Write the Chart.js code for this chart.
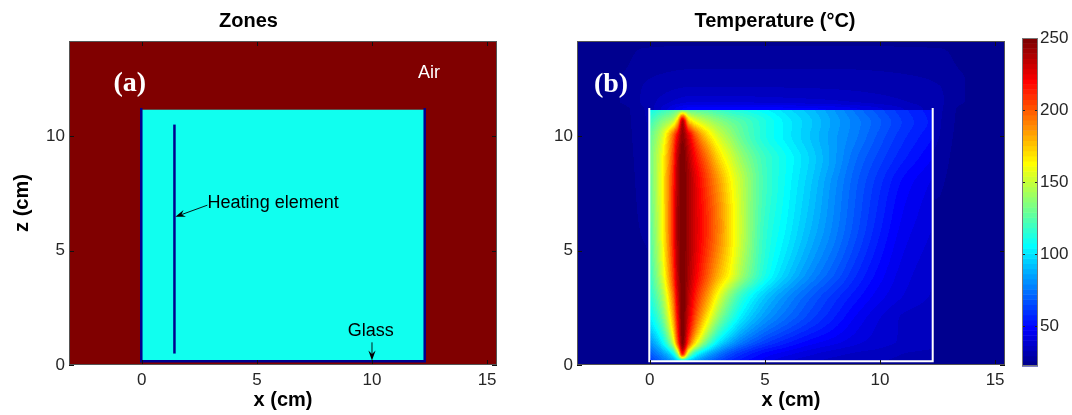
<!DOCTYPE html>
<html>
<head>
<meta charset="utf-8">
<script src="https://cdn.jsdelivr.net/npm/chart.js@4.4.1/dist/chart.umd.min.js"></script>
<style>
  html, body { margin: 0; padding: 0; background: #fff; }
  #wrap { position: relative; width: 1072px; height: 415px; overflow: hidden; }
  #wrap canvas { position: absolute; top: 0; }
  #zones { left: 0; }
  #temp { left: 545px; }
  #cbar { left: 1010px; }
</style>
</head>
<body>
<div id="wrap">
  <canvas id="zones" width="566" height="415"></canvas>
  <canvas id="temp" width="492" height="415"></canvas>
  <canvas id="cbar" width="62" height="415"></canvas>
</div>
<script>
// ---- axes (cm) ----
const xLimits = [-3.16, 15.43];
const zLimits = [0, 14.15];
const xTicks = [0, 5, 10, 15];
const zTicks = [0, 5, 10];

// ---- colour scale (deg C) ----
const tempLimits = [22.3, 250];
const tempTicks = [50, 100, 150, 200, 250];

// ---- geometry (cm) ----
const vesselX = [-0.02, 12.29];
const vesselZ = [0.16, 11.22];
const liquidTop = 11.15;
const heaterX = 1.42;
const heaterZ = [0.5, 10.5];

// ---- temperature inside the vessel (deg C), rows follow tankZ, columns follow tankX ----
const tankX = [-0.02, 0.5, 1.0, 1.2, 1.42, 1.7, 2.0, 2.5, 3, 3.5, 4, 5, 6, 7, 8, 9, 10, 11, 12.29];
const tankZ = [0.16, 0.5, 1, 2, 3, 4, 6, 8, 9, 10, 10.6, 11.15];
const tankTemp = [
  [ 60,  70,  82,  88,  92,  88,  82,  72,  64,  57,  52,  45,  40,  37,  35,  34,  33,  32,  31],
  [ 68,  82, 105, 140, 215, 145, 112,  90,  76,  66,  59,  50,  45,  41,  38,  36,  35,  33,  32],
  [ 80, 102, 150, 200, 248, 205, 168, 128, 102,  87,  76,  63,  55,  49,  45,  41,  38,  36,  34],
  [100, 125, 178, 218, 250, 226, 200, 165, 135, 115, 100,  82,  71,  62,  54,  46,  40,  36,  34],
  [110, 138, 192, 228, 250, 233, 213, 186, 158, 134, 116,  94,  80,  69,  60,  52,  45,  40,  36],
  [115, 150, 205, 235, 250, 238, 223, 201, 180, 162, 142, 112,  94,  80,  69,  58,  49,  42,  37],
  [122, 158, 212, 240, 250, 240, 228, 210, 191, 170, 150, 117, 103,  90,  78,  66,  55,  46,  40],
  [126, 160, 210, 238, 250, 240, 226, 205, 185, 165, 148, 120, 106,  94,  81,  69,  59,  50,  43],
  [128, 158, 205, 235, 250, 236, 218, 195, 172, 155, 140, 119, 107,  96,  84,  72,  63,  55,  47],
  [125, 150, 195, 222, 245, 225, 200, 172, 153, 140, 128, 112, 102,  93,  84,  76,  67,  59,  51],
  [118, 135, 152, 178, 238, 180, 162, 148, 138, 130, 124, 112, 102,  94,  85,  77,  69,  61,  53],
  [108, 116, 122, 125, 126, 125, 124, 122, 118, 114, 111, 105,  98,  91,  83,  74,  66,  59,  52]
];

// ---- temperature of the surrounding air (deg C), rows follow airZ, columns follow airX ----
const airX = [-3.16, -2.2, -1.2, -0.3, 2, 7, 12.6, 13.6, 14.5, 15.43];
const airZ = [0, 0.16, 6, 11.15, 11.5, 12.5, 13.4, 14.15];
const airTemp = [
  [25, 25, 25, 25, 25, 25, 25, 25, 25, 25],
  [25, 25, 25, 25, 26, 26, 25, 25, 25, 25],
  [25, 25, 25, 26, 27, 27, 25, 25, 25, 25],
  [25, 25, 25, 29, 50, 48, 30, 25, 25, 25],
  [25, 25, 26, 30, 40, 38, 30, 26, 25, 25],
  [25, 25, 26, 29, 31, 31, 29, 26, 25, 25],
  [25, 25, 25, 27, 28, 28, 27, 25, 25, 25],
  [25, 25, 25, 25, 25, 25, 25, 25, 25, 25]
];

// ---- styling ----
const SANS = '"Liberation Sans", Arial, Helvetica, sans-serif';
const SERIF = '"Liberation Serif", "Times New Roman", serif';
const TICK_COLOR = '#262626';

// MATLAB-style jet colormap with 64 levels
function jet64(k) {
  const u = i => (i < 1 || i > 47) ? 0 : (i <= 16 ? i / 16 : (i <= 31 ? 1 : (48 - i) / 16));
  return [u(k - 24), u(k - 8), u(k + 8)].map(v => Math.round(v * 255));
}
function levelOf(t) {
  const f = (t - tempLimits[0]) / (tempLimits[1] - tempLimits[0]);
  return Math.min(64, Math.max(1, Math.floor(f * 64) + 1));
}
const rgb = c => `rgb(${c[0]},${c[1]},${c[2]})`;
const AIR_COLOR = rgb(jet64(64));
const LIQUID_COLOR = rgb(jet64(25));
const GLASS_COLOR = rgb(jet64(1));

// monotone cubic (PCHIP) interpolation helpers
function cellIndex(nodes, v) {
  let i = 0;
  while (i < nodes.length - 2 && v > nodes[i + 1]) i++;
  return i;
}
function pchipSlopes(xs, ys) {
  const n = xs.length, h = [], d = [], m = new Array(n);
  for (let i = 0; i < n - 1; i++) { h[i] = xs[i + 1] - xs[i]; d[i] = (ys[i + 1] - ys[i]) / h[i]; }
  m[0] = d[0]; m[n - 1] = d[n - 2];
  for (let i = 1; i < n - 1; i++) {
    if (d[i - 1] * d[i] <= 0) m[i] = 0;
    else {
      const w1 = 2 * h[i] + h[i - 1], w2 = h[i] + 2 * h[i - 1];
      m[i] = (w1 + w2) / (w1 / d[i - 1] + w2 / d[i]);
    }
  }
  return m;
}
function pchipEval(xs, ys, m, x) {
  const n = xs.length;
  if (x <= xs[0]) return ys[0];
  if (x >= xs[n - 1]) return ys[n - 1];
  const i = cellIndex(xs, x);
  const h = xs[i + 1] - xs[i], t = (x - xs[i]) / h, t2 = t * t, t3 = t2 * t;
  return (2 * t3 - 3 * t2 + 1) * ys[i] + (t3 - 2 * t2 + t) * h * m[i] +
         (-2 * t3 + 3 * t2) * ys[i + 1] + (t3 - t2) * h * m[i + 1];
}
// smooth field sampler over a rectilinear grid: along x per row, then along z
function makeField(gx, gz, vals) {
  const rowSlopes = vals.map(r => pchipSlopes(gx, r));
  return {
    column(x) {
      const col = vals.map((r, j) => pchipEval(gx, r, rowSlopes[j], x));
      const m = pchipSlopes(gz, col);
      return z => pchipEval(gz, col, m, z);
    }
  };
}

// vessel walls (open at the top) and heater as polylines
const wallPath = [
  {x: vesselX[0], y: vesselZ[1]}, {x: vesselX[0], y: vesselZ[0]},
  {x: vesselX[1], y: vesselZ[0]}, {x: vesselX[1], y: vesselZ[1]}
];
const heaterPath = [{x: heaterX, y: heaterZ[0]}, {x: heaterX, y: heaterZ[1]}];

// ---- plugins ----
const zoneFill = {
  id: 'zoneFill',
  beforeDatasetsDraw(chart) {
    const {ctx, scales: {x, y}} = chart;
    ctx.save();
    ctx.fillStyle = AIR_COLOR;
    const ax0 = x.getPixelForValue(xLimits[0]), ax1 = x.getPixelForValue(xLimits[1]);
    const ay0 = y.getPixelForValue(zLimits[1]), ay1 = y.getPixelForValue(zLimits[0]);
    ctx.fillRect(ax0, ay0, ax1 - ax0, ay1 - ay0);
    ctx.fillStyle = LIQUID_COLOR;
    const lx0 = x.getPixelForValue(vesselX[0]), lx1 = x.getPixelForValue(vesselX[1]);
    const ly0 = y.getPixelForValue(liquidTop), ly1 = y.getPixelForValue(vesselZ[0]);
    ctx.fillRect(lx0, ly0, lx1 - lx0, ly1 - ly0);
    ctx.restore();
  }
};

const fieldLayer = {
  id: 'fieldLayer',
  beforeDatasetsDraw(chart) {
    const {ctx, chartArea: a, scales: {x, y}} = chart;
    const w = Math.round(a.width), h = Math.round(a.height);
    const off = document.createElement('canvas');
    off.width = w; off.height = h;
    const octx = off.getContext('2d');
    const img = octx.createImageData(w, h);
    const palette = [];
    for (let k = 1; k <= 64; k++) palette[k] = jet64(k);
    const tank = makeField(tankX, tankZ, tankTemp);
    const air = makeField(airX, airZ, airTemp);
    const tx0 = tankX[0], tx1 = tankX[tankX.length - 1];
    const tz0 = tankZ[0], tz1 = tankZ[tankZ.length - 1];
    const zs = [];
    for (let j = 0; j < h; j++) zs[j] = y.getValueForPixel(a.top + j + 0.5);
    for (let i = 0; i < w; i++) {
      const xv = x.getValueForPixel(a.left + i + 0.5);
      const inX = xv >= tx0 && xv <= tx1;
      const tankCol = inX ? tank.column(xv) : null;
      const airCol = air.column(xv);
      for (let j = 0; j < h; j++) {
        const zv = zs[j];
        const t = (inX && zv >= tz0 && zv <= tz1) ? tankCol(zv) : airCol(zv);
        const c = palette[levelOf(t)];
        const p = (j * w + i) * 4;
        img.data[p] = c[0]; img.data[p + 1] = c[1]; img.data[p + 2] = c[2]; img.data[p + 3] = 255;
      }
    }
    octx.putImageData(img, 0, 0);
    ctx.drawImage(off, Math.round(a.left), Math.round(a.top));
  }
};

function drawArrow(ctx, x0, y0, x1, y1) {
  const ang = Math.atan2(y1 - y0, x1 - x0);
  const cs = Math.cos(ang), sn = Math.sin(ang);
  const L = 10, W = 3.6, back = 6.5;
  ctx.beginPath();
  ctx.moveTo(x0, y0);
  ctx.lineTo(x1 - cs * back, y1 - sn * back);
  ctx.stroke();
  const bx = x1 - cs * L, by = y1 - sn * L;
  ctx.beginPath();
  ctx.moveTo(x1, y1);
  ctx.lineTo(bx - sn * W, by + cs * W);
  ctx.lineTo(x1 - cs * back, y1 - sn * back);
  ctx.lineTo(bx + sn * W, by - cs * W);
  ctx.closePath();
  ctx.fill();
}

const annotate = {
  id: 'annotate',
  afterDatasetsDraw(chart, args, opts) {
    const {ctx, scales: {x, y}} = chart;
    ctx.save();
    (opts.arrows || []).forEach(a => {
      ctx.strokeStyle = '#000'; ctx.fillStyle = '#000'; ctx.lineWidth = 0.9;
      drawArrow(ctx, x.getPixelForValue(a.from[0]), y.getPixelForValue(a.from[1]),
                     x.getPixelForValue(a.to[0]), y.getPixelForValue(a.to[1]));
    });
    (opts.labels || []).forEach(l => {
      ctx.font = l.font;
      ctx.fillStyle = l.color;
      ctx.textAlign = l.align;
      ctx.textBaseline = 'middle';
      ctx.fillText(l.text, x.getPixelForValue(l.at[0]), y.getPixelForValue(l.at[1]));
    });
    ctx.restore();
  }
};

const frame = {
  id: 'frame',
  afterDatasetsDraw(chart, args, opts) {
    const {ctx, chartArea: a, scales} = chart;
    const L = opts.tickLength;
    ctx.save();
    ctx.lineWidth = 1;
    ctx.strokeStyle = opts.tickColor;
    ctx.beginPath();
    if (opts.xTicks && scales.x) {
      scales.x.ticks.forEach(t => {
        const px = Math.round(scales.x.getPixelForValue(t.value)) + 0.5;
        ctx.moveTo(px, a.bottom); ctx.lineTo(px, a.bottom - L);
        ctx.moveTo(px, a.top); ctx.lineTo(px, a.top + L);
      });
    }
    const ys = scales[opts.yScale || 'y'];
    ys.ticks.forEach(t => {
      const py = Math.round(ys.getPixelForValue(t.value)) + 0.5;
      ctx.moveTo(a.left, py); ctx.lineTo(a.left + L, py);
      ctx.moveTo(a.right, py); ctx.lineTo(a.right - L, py);
    });
    ctx.stroke();
    ctx.strokeStyle = opts.borderColor;
    ctx.strokeRect(Math.round(a.left) + 0.5, Math.round(a.top) + 0.5,
                   Math.round(a.width) - 1, Math.round(a.height) - 1);
    ctx.restore();
  }
};

const colorBar = {
  id: 'colorBar',
  beforeDatasetsDraw(chart) {
    const {ctx, chartArea: a, scales: {y}} = chart;
    const span = tempLimits[1] - tempLimits[0];
    ctx.save();
    for (let k = 1; k <= 64; k++) {
      const p0 = y.getPixelForValue(tempLimits[0] + (k - 1) * span / 64);
      const p1 = y.getPixelForValue(tempLimits[0] + k * span / 64);
      ctx.fillStyle = rgb(jet64(k));
      ctx.fillRect(a.left, p1, a.right - a.left, p0 - p1 + 0.5);
    }
    ctx.restore();
  }
};

// ---- shared axis settings ----
const tickFont = {family: SANS, size: 17};
const titleFont = {family: SANS, size: 20, weight: 'bold'};
function xAxis() {
  return {
    type: 'linear', min: xLimits[0], max: xLimits[1],
    afterBuildTicks: s => { s.ticks = xTicks.map(v => ({value: v})); },
    afterFit: s => { s.height = 50; },
    grid: {display: false, drawTicks: false},
    border: {display: false},
    ticks: {font: tickFont, color: TICK_COLOR, padding: 5, maxRotation: 0, autoSkip: false},
    title: {display: true, text: 'x (cm)', color: '#000', font: titleFont, padding: {top: 0, bottom: 3}}
  };
}
function zAxis(width, withTitle) {
  return {
    type: 'linear', min: zLimits[0], max: zLimits[1],
    afterBuildTicks: s => { s.ticks = zTicks.map(v => ({value: v})); },
    afterFit: s => { s.width = width; },
    grid: {display: false, drawTicks: false},
    border: {display: false},
    ticks: {font: tickFont, color: TICK_COLOR, padding: 4, autoSkip: false},
    title: {display: withTitle, text: 'z (cm)', color: '#000', font: titleFont, padding: {top: 10, bottom: 0}}
  };
}
const common = {
  responsive: false, animation: false, events: [],
  plugins: {legend: {display: false}, tooltip: {enabled: false}}
};
const titleOpts = text => ({
  display: true, text, color: '#000', font: titleFont, padding: {top: 9, bottom: 8}
});
const frameOpts = {tickLength: 5, tickColor: '#111', borderColor: '#555', xTicks: true};

// ---- (a) zones ----
new Chart(document.getElementById('zones'), {
  type: 'scatter',
  data: {
    datasets: [
      {label: 'Glass', data: wallPath, showLine: true, borderColor: GLASS_COLOR, borderWidth: 2.5,
       pointRadius: 0, tension: 0, fill: false},
      {label: 'Heating element', data: heaterPath, showLine: true, borderColor: GLASS_COLOR, borderWidth: 2.5,
       pointRadius: 0, tension: 0, fill: false}
    ]
  },
  options: {
    ...common,
    layout: {padding: {left: 0, right: 69, top: 0, bottom: 0}},
    plugins: {
      ...common.plugins,
      title: titleOpts('Zones'),
      frame: frameOpts,
      annotate: {
        arrows: [
          {from: [2.85, 6.98], to: [1.46, 6.47]},
          {from: [10.0, 0.99], to: [10.0, 0.2]}
        ],
        labels: [
          {text: '(a)', at: [-0.52, 12.27], color: '#fff', font: `bold 28px ${SERIF}`, align: 'center'},
          {text: 'Air', at: [12.48, 12.77], color: '#fff', font: `18px ${SANS}`, align: 'center'},
          {text: 'Heating element', at: [2.86, 7.06], color: '#000', font: `18px ${SANS}`, align: 'left'},
          {text: 'Glass', at: [9.95, 1.5], color: '#000', font: `18px ${SANS}`, align: 'center'}
        ]
      }
    },
    scales: {x: xAxis(), y: zAxis(69, true)}
  },
  plugins: [zoneFill, annotate, frame]
});

// ---- (b) temperature ----
new Chart(document.getElementById('temp'), {
  type: 'scatter',
  data: {
    datasets: [
      {label: 'Vessel', data: wallPath, showLine: true, borderColor: '#fff', borderWidth: 2,
       pointRadius: 0, tension: 0, fill: false}
    ]
  },
  options: {
    ...common,
    layout: {padding: {left: 0, right: 32, top: 0, bottom: 0}},
    plugins: {
      ...common.plugins,
      title: titleOpts('Temperature (°C)'),
      frame: frameOpts,
      annotate: {
        labels: [
          {text: '(b)', at: [-1.68, 12.25], color: '#fff', font: `bold 28px ${SERIF}`, align: 'center'}
        ]
      }
    },
    scales: {x: xAxis(), y: zAxis(32, false)}
  },
  plugins: [fieldLayer, annotate, frame]
});

// ---- colour bar ----
new Chart(document.getElementById('cbar'), {
  type: 'scatter',
  data: {datasets: [{data: []}]},
  options: {
    ...common,
    layout: {padding: {left: 12, right: 0, top: 38, bottom: 49}},
    plugins: {
      ...common.plugins,
      frame: {tickLength: 3, tickColor: '#222', borderColor: '#777', xTicks: false}
    },
    scales: {
      x: {type: 'linear', min: 0, max: 1, display: false},
      y: {
        type: 'linear', position: 'right', min: tempLimits[0], max: tempLimits[1],
        afterBuildTicks: s => { s.ticks = tempTicks.map(v => ({value: v})); },
        afterFit: s => { s.width = 34; },
        grid: {display: false, drawTicks: false},
        border: {display: false},
        ticks: {font: tickFont, color: TICK_COLOR, padding: 2, autoSkip: false}
      }
    }
  },
  plugins: [colorBar, frame]
});
</script>
</body>
</html>
